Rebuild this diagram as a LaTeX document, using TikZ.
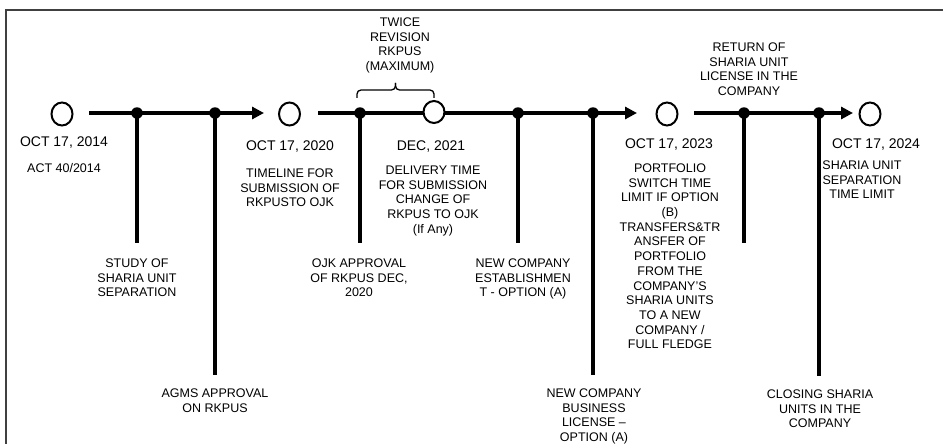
\documentclass[tikz,border=0pt]{standalone}
\usepackage{fontspec}
\setmainfont{Liberation Sans}
\usetikzlibrary{arrows.meta,shapes.geometric}
\begin{document}
\begin{tikzpicture}[x=1pt,y=-1pt,
 mainline/.style={line width=4.6pt},
 arr/.style={-{Triangle[length=12pt,width=12pt]}},
 dot/.style={circle,fill=black,inner sep=0pt,minimum size=11.5pt},
 opencirc/.style={ellipse,draw=black,line width=2pt,fill=white,minimum width=21pt,minimum height=23pt,inner sep=0pt},
 datelbl/.style={font=\fontsize{14}{16}\selectfont,inner sep=0pt,anchor=north},
 lbl/.style={font=\fontsize{12.5}{14.7}\selectfont,align=center,inner sep=0pt,anchor=north},
 bracestyle/.style={line width=1.3pt,rounded corners=4pt},
 ]
\useasboundingbox (0,0) rectangle (943,444);
\draw[line width=2pt,color=black!75] (6,460) -- (6,10) -- (960,10);

% ---- segment 1
\coordinate (s1) at (89,113);
\coordinate (e1) at (264,113);
\node[dot] (d1) at (137,113) {};
\node[dot] (d2) at (215,113) {};
\coordinate (v1) at (137,243);
\coordinate (v2) at (215,375);
\draw[mainline,arr] (s1) -- (e1);
\draw[mainline] (d1.center) -- (v1);
\draw[mainline] (d2.center) -- (v2);

% ---- segment 2
\coordinate (s2) at (318,113);
\coordinate (e2) at (637,113);
\node[dot] (d3) at (360,113) {};
\node[dot] (d4) at (518,113) {};
\node[dot] (d5) at (593,113) {};
\coordinate (v3) at (360,243);
\coordinate (v4) at (518,243);
\coordinate (v5) at (593,375);
\draw[mainline,arr] (s2) -- (e2);
\draw[mainline] (d3.center) -- (v3);
\draw[mainline] (d4.center) -- (v4);
\draw[mainline] (d5.center) -- (v5);

% ---- segment 3
\coordinate (s3) at (694,113);
\coordinate (e3) at (853,113);
\node[dot] (d6) at (744,113) {};
\node[dot] (d7) at (819,113) {};
\coordinate (v6) at (744,243);
\coordinate (v7) at (819,376);
\draw[mainline,arr] (s3) -- (e3);
\draw[mainline] (d6.center) -- (v6);
\draw[mainline] (d7.center) -- (v7);

% ---- open circles
\node[opencirc] (c1) at (62,114) {};
\node[opencirc] (c2) at (289.5,114) {};
\node[opencirc,minimum height=22pt] (c3) at (434,112) {};
\node[opencirc] (c4) at (667,114) {};
\node[opencirc] (c5) at (870,114) {};

% ---- brace
\coordinate (b1) at (357,98);
\coordinate (b2) at (434,98);
\coordinate (bt) at (395.5,83);
\draw[bracestyle] (b1) |- (bt |- 0,90) -- (bt);
\draw[bracestyle] (b2) |- (bt |- 0,90) -- (bt);
\node[lbl] (twice) at (400,17.5) {TWICE\\REVISION\\RKPUS\\(MAXIMUM)};

% ---- date labels
\node[datelbl] (t1) at (64,137) {OCT 17, 2014};
\node[lbl] (t1b) at (64,163.5) {ACT 40/2014};
\node[datelbl] (t2) at (290,141) {OCT 17, 2020};
\node[lbl] (t2b) at (290,168.5) {TIMELINE FOR\\SUBMISSION OF\\RKPUSTO OJK};
\node[datelbl] (t3) at (431,141) {DEC, 2021};
\node[lbl] (t3b) at (433,165.5) {DELIVERY TIME\\FOR SUBMISSION\\CHANGE OF\\RKPUS TO OJK\\(If Any)};
\node[datelbl] (t4) at (669,139) {OCT 17, 2023};
\node[lbl] (t4b) at (670,163.5) {PORTFOLIO\\SWITCH TIME\\LIMIT IF OPTION\\(B)\\TRANSFERS\&TR\\ANSFER OF\\PORTFOLIO\\FROM THE\\COMPANY'S\\SHARIA UNITS\\TO A NEW\\COMPANY /\\FULL FLEDGE};
\node[datelbl] (t5) at (876,139) {OCT 17, 2024};
\node[lbl] (t5b) at (862,160.5) {SHARIA UNIT\\SEPARATION\\TIME LIMIT};
\node[lbl] (ret) at (749,42.5) {RETURN OF\\SHARIA UNIT\\LICENSE IN THE\\COMPANY};

% ---- bottom labels
\node[lbl] (l1) at (137,258.5) {STUDY OF\\SHARIA UNIT\\SEPARATION};
\node[lbl] (l2) at (215,388.5) {AGMS APPROVAL\\ON RKPUS};
\node[lbl] (l3) at (359,258.5) {OJK APPROVAL\\OF RKPUS DEC,\\2020};
\node[lbl] (l4) at (523,258.5) {NEW COMPANY\\ESTABLISHMEN\\T - OPTION (A)};
\node[lbl] (l5) at (594,388.5) {NEW COMPANY\\BUSINESS\\LICENSE –\\OPTION (A)};
\node[lbl] (l6) at (820,389.5) {CLOSING SHARIA\\UNITS IN THE\\COMPANY};
\end{tikzpicture}
\end{document}
